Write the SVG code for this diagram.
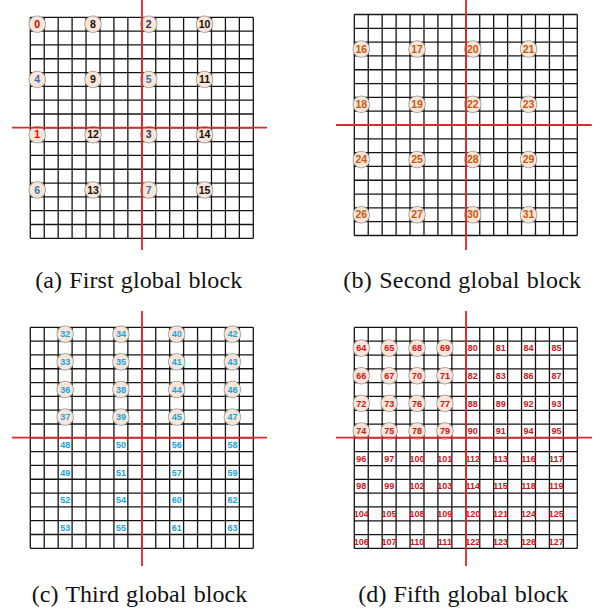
<svg xmlns="http://www.w3.org/2000/svg" width="601" height="613" viewBox="0 0 601 613">
<style>
.grid{fill:none;stroke:#141414;stroke-width:1.3}
.cut{stroke:#e3262b;stroke-width:1.8;fill:none}
.nc{fill:#fbe5d6;stroke:#a6a6a6;stroke-width:1}
.t{font-family:"Liberation Sans",Arial,sans-serif;font-weight:bold;text-anchor:middle}
.a{font-size:10.5px}
.s{font-size:9px}
.red{fill:#c00000}
.bred{fill:#ff0000}
.blue{fill:#2e75b6}
.navy{fill:#1f3864}
.blk{fill:#111}
.org{fill:#c55a11}
.cyan{fill:#16a3e8}
.dred{fill:#c8161d}
.cap{font-family:"Liberation Serif","Times New Roman",serif;font-size:24px;fill:#111;word-spacing:1px;text-anchor:middle}
</style>
<defs>
<path id="grid" class="grid" d="M0 0V221M13.94 0V221M27.88 0V221M41.81 0V221M55.75 0V221M69.69 0V221M83.63 0V221M97.56 0V221M111.5 0V221M125.44 0V221M139.38 0V221M153.31 0V221M167.25 0V221M181.19 0V221M195.13 0V221M209.06 0V221M223 0V221M0 0H223M0 13.81H223M0 27.63H223M0 41.44H223M0 55.25H223M0 69.06H223M0 82.88H223M0 96.69H223M0 110.5H223M0 124.31H223M0 138.13H223M0 151.94H223M0 165.75H223M0 179.56H223M0 193.38H223M0 207.19H223M0 221H223"/>
</defs>
<g id="grids">
<use href="#grid" transform="translate(30.3,17.3)"/>
<use href="#grid" transform="translate(354.3,14.5)"/>
<use href="#grid" transform="translate(30.3,327.3)"/>
<use href="#grid" transform="translate(354.3,327.4)"/>
</g>
<g id="panel-a">
<g id="n0"><circle class="nc" cx="37.27" cy="24.21" r="8.3"/><text class="t a red" x="37.27" y="27.9">0</text></g>
<g id="n8"><circle class="nc" cx="93.02" cy="24.21" r="8.3"/><text class="t a blk" x="93.02" y="27.9">8</text></g>
<g id="n2"><circle class="nc" cx="148.77" cy="24.21" r="8.3"/><text class="t a navy" x="148.77" y="27.9">2</text></g>
<g id="n10"><circle class="nc" cx="204.52" cy="24.21" r="8.3"/><text class="t a blk" x="204.52" y="27.9">10</text></g>
<g id="n4"><circle class="nc" cx="37.27" cy="79.46" r="8.3"/><text class="t a blue" x="37.27" y="83.15">4</text></g>
<g id="n9"><circle class="nc" cx="93.02" cy="79.46" r="8.3"/><text class="t a blk" x="93.02" y="83.15">9</text></g>
<g id="n5"><circle class="nc" cx="148.77" cy="79.46" r="8.3"/><text class="t a blue" x="148.77" y="83.15">5</text></g>
<g id="n11"><circle class="nc" cx="204.52" cy="79.46" r="8.3"/><text class="t a blk" x="204.52" y="83.15">11</text></g>
<g id="n1"><circle class="nc" cx="37.27" cy="134.71" r="8.3"/><text class="t a bred" x="37.27" y="138.4">1</text></g>
<g id="n12"><circle class="nc" cx="93.02" cy="134.71" r="8.3"/><text class="t a blk" x="93.02" y="138.4">12</text></g>
<g id="n3"><circle class="nc" cx="148.77" cy="134.71" r="8.3"/><text class="t a navy" x="148.77" y="138.4">3</text></g>
<g id="n14"><circle class="nc" cx="204.52" cy="134.71" r="8.3"/><text class="t a blk" x="204.52" y="138.4">14</text></g>
<g id="n6"><circle class="nc" cx="37.27" cy="189.96" r="8.3"/><text class="t a blue" x="37.27" y="193.65">6</text></g>
<g id="n13"><circle class="nc" cx="93.02" cy="189.96" r="8.3"/><text class="t a blk" x="93.02" y="193.65">13</text></g>
<g id="n7"><circle class="nc" cx="148.77" cy="189.96" r="8.3"/><text class="t a blue" x="148.77" y="193.65">7</text></g>
<g id="n15"><circle class="nc" cx="204.52" cy="189.96" r="8.3"/><text class="t a blk" x="204.52" y="193.65">15</text></g>
</g>
<g id="panel-b">
<g id="n16"><circle class="nc" cx="361.27" cy="49.03" r="8.3"/><text class="t a org" x="361.27" y="52.7">16</text></g>
<g id="n17"><circle class="nc" cx="417.02" cy="49.03" r="8.3"/><text class="t a org" x="417.02" y="52.7">17</text></g>
<g id="n20"><circle class="nc" cx="472.77" cy="49.03" r="8.3"/><text class="t a org" x="472.77" y="52.7">20</text></g>
<g id="n21"><circle class="nc" cx="528.52" cy="49.03" r="8.3"/><text class="t a org" x="528.52" y="52.7">21</text></g>
<g id="n18"><circle class="nc" cx="361.27" cy="104.28" r="8.3"/><text class="t a org" x="361.27" y="107.95">18</text></g>
<g id="n19"><circle class="nc" cx="417.02" cy="104.28" r="8.3"/><text class="t a org" x="417.02" y="107.95">19</text></g>
<g id="n22"><circle class="nc" cx="472.77" cy="104.28" r="8.3"/><text class="t a org" x="472.77" y="107.95">22</text></g>
<g id="n23"><circle class="nc" cx="528.52" cy="104.28" r="8.3"/><text class="t a org" x="528.52" y="107.95">23</text></g>
<g id="n24"><circle class="nc" cx="361.27" cy="159.53" r="8.3"/><text class="t a org" x="361.27" y="163.2">24</text></g>
<g id="n25"><circle class="nc" cx="417.02" cy="159.53" r="8.3"/><text class="t a org" x="417.02" y="163.2">25</text></g>
<g id="n28"><circle class="nc" cx="472.77" cy="159.53" r="8.3"/><text class="t a org" x="472.77" y="163.2">28</text></g>
<g id="n29"><circle class="nc" cx="528.52" cy="159.53" r="8.3"/><text class="t a org" x="528.52" y="163.2">29</text></g>
<g id="n26"><circle class="nc" cx="361.27" cy="214.78" r="8.3"/><text class="t a org" x="361.27" y="218.45">26</text></g>
<g id="n27"><circle class="nc" cx="417.02" cy="214.78" r="8.3"/><text class="t a org" x="417.02" y="218.45">27</text></g>
<g id="n30"><circle class="nc" cx="472.77" cy="214.78" r="8.3"/><text class="t a org" x="472.77" y="218.45">30</text></g>
<g id="n31"><circle class="nc" cx="528.52" cy="214.78" r="8.3"/><text class="t a org" x="528.52" y="218.45">31</text></g>
</g>
<g id="panel-c">
<g id="n32"><circle class="nc" cx="65.14" cy="334.21" r="8.3"/><text class="t s cyan" x="65.14" y="337.4">32</text></g>
<g id="n34"><circle class="nc" cx="120.89" cy="334.21" r="8.3"/><text class="t s cyan" x="120.89" y="337.4">34</text></g>
<g id="n40"><circle class="nc" cx="176.64" cy="334.21" r="8.3"/><text class="t s cyan" x="176.64" y="337.4">40</text></g>
<g id="n42"><circle class="nc" cx="232.39" cy="334.21" r="8.3"/><text class="t s cyan" x="232.39" y="337.4">42</text></g>
<g id="n33"><circle class="nc" cx="65.14" cy="361.83" r="8.3"/><text class="t s cyan" x="65.14" y="365.03">33</text></g>
<g id="n35"><circle class="nc" cx="120.89" cy="361.83" r="8.3"/><text class="t s cyan" x="120.89" y="365.03">35</text></g>
<g id="n41"><circle class="nc" cx="176.64" cy="361.83" r="8.3"/><text class="t s cyan" x="176.64" y="365.03">41</text></g>
<g id="n43"><circle class="nc" cx="232.39" cy="361.83" r="8.3"/><text class="t s cyan" x="232.39" y="365.03">43</text></g>
<g id="n36"><circle class="nc" cx="65.14" cy="389.46" r="8.3"/><text class="t s cyan" x="65.14" y="392.66">36</text></g>
<g id="n38"><circle class="nc" cx="120.89" cy="389.46" r="8.3"/><text class="t s cyan" x="120.89" y="392.66">38</text></g>
<g id="n44"><circle class="nc" cx="176.64" cy="389.46" r="8.3"/><text class="t s cyan" x="176.64" y="392.66">44</text></g>
<g id="n46"><circle class="nc" cx="232.39" cy="389.46" r="8.3"/><text class="t s cyan" x="232.39" y="392.66">46</text></g>
<g id="n37"><circle class="nc" cx="65.14" cy="417.08" r="8.3"/><text class="t s cyan" x="65.14" y="420.28">37</text></g>
<g id="n39"><circle class="nc" cx="120.89" cy="417.08" r="8.3"/><text class="t s cyan" x="120.89" y="420.28">39</text></g>
<g id="n45"><circle class="nc" cx="176.64" cy="417.08" r="8.3"/><text class="t s cyan" x="176.64" y="420.28">45</text></g>
<g id="n47"><circle class="nc" cx="232.39" cy="417.08" r="8.3"/><text class="t s cyan" x="232.39" y="420.28">47</text></g>
<g id="n48"><text class="t s cyan" x="65.14" y="447.91">48</text></g>
<g id="n50"><text class="t s cyan" x="120.89" y="447.91">50</text></g>
<g id="n56"><text class="t s cyan" x="176.64" y="447.91">56</text></g>
<g id="n58"><text class="t s cyan" x="232.39" y="447.91">58</text></g>
<g id="n49"><text class="t s cyan" x="65.14" y="475.53">49</text></g>
<g id="n51"><text class="t s cyan" x="120.89" y="475.53">51</text></g>
<g id="n57"><text class="t s cyan" x="176.64" y="475.53">57</text></g>
<g id="n59"><text class="t s cyan" x="232.39" y="475.53">59</text></g>
<g id="n52"><text class="t s cyan" x="65.14" y="503.16">52</text></g>
<g id="n54"><text class="t s cyan" x="120.89" y="503.16">54</text></g>
<g id="n60"><text class="t s cyan" x="176.64" y="503.16">60</text></g>
<g id="n62"><text class="t s cyan" x="232.39" y="503.16">62</text></g>
<g id="n53"><text class="t s cyan" x="65.14" y="530.78">53</text></g>
<g id="n55"><text class="t s cyan" x="120.89" y="530.78">55</text></g>
<g id="n61"><text class="t s cyan" x="176.64" y="530.78">61</text></g>
<g id="n63"><text class="t s cyan" x="232.39" y="530.78">63</text></g>
</g>
<g id="panel-d">
<g id="n64"><circle class="nc" cx="361.27" cy="348.12" r="8.3"/><text class="t s dred" x="361.27" y="351.32">64</text></g>
<g id="n65"><circle class="nc" cx="389.14" cy="348.12" r="8.3"/><text class="t s dred" x="389.14" y="351.32">65</text></g>
<g id="n68"><circle class="nc" cx="417.02" cy="348.12" r="8.3"/><text class="t s dred" x="417.02" y="351.32">68</text></g>
<g id="n69"><circle class="nc" cx="444.89" cy="348.12" r="8.3"/><text class="t s dred" x="444.89" y="351.32">69</text></g>
<g id="n66"><circle class="nc" cx="361.27" cy="375.74" r="8.3"/><text class="t s dred" x="361.27" y="378.94">66</text></g>
<g id="n67"><circle class="nc" cx="389.14" cy="375.74" r="8.3"/><text class="t s dred" x="389.14" y="378.94">67</text></g>
<g id="n70"><circle class="nc" cx="417.02" cy="375.74" r="8.3"/><text class="t s dred" x="417.02" y="378.94">70</text></g>
<g id="n71"><circle class="nc" cx="444.89" cy="375.74" r="8.3"/><text class="t s dred" x="444.89" y="378.94">71</text></g>
<g id="n72"><circle class="nc" cx="361.27" cy="403.37" r="8.3"/><text class="t s dred" x="361.27" y="406.57">72</text></g>
<g id="n73"><circle class="nc" cx="389.14" cy="403.37" r="8.3"/><text class="t s dred" x="389.14" y="406.57">73</text></g>
<g id="n76"><circle class="nc" cx="417.02" cy="403.37" r="8.3"/><text class="t s dred" x="417.02" y="406.57">76</text></g>
<g id="n77"><circle class="nc" cx="444.89" cy="403.37" r="8.3"/><text class="t s dred" x="444.89" y="406.57">77</text></g>
<g id="n74"><circle class="nc" cx="361.27" cy="430.99" r="8.3"/><text class="t s dred" x="361.27" y="434.19">74</text></g>
<g id="n75"><circle class="nc" cx="389.14" cy="430.99" r="8.3"/><text class="t s dred" x="389.14" y="434.19">75</text></g>
<g id="n78"><circle class="nc" cx="417.02" cy="430.99" r="8.3"/><text class="t s dred" x="417.02" y="434.19">78</text></g>
<g id="n79"><circle class="nc" cx="444.89" cy="430.99" r="8.3"/><text class="t s dred" x="444.89" y="434.19">79</text></g>
<g id="n80"><text class="t s dred" x="472.77" y="351.32">80</text></g>
<g id="n81"><text class="t s dred" x="500.64" y="351.32">81</text></g>
<g id="n84"><text class="t s dred" x="528.52" y="351.32">84</text></g>
<g id="n85"><text class="t s dred" x="556.39" y="351.32">85</text></g>
<g id="n82"><text class="t s dred" x="472.77" y="378.94">82</text></g>
<g id="n83"><text class="t s dred" x="500.64" y="378.94">83</text></g>
<g id="n86"><text class="t s dred" x="528.52" y="378.94">86</text></g>
<g id="n87"><text class="t s dred" x="556.39" y="378.94">87</text></g>
<g id="n88"><text class="t s dred" x="472.77" y="406.57">88</text></g>
<g id="n89"><text class="t s dred" x="500.64" y="406.57">89</text></g>
<g id="n92"><text class="t s dred" x="528.52" y="406.57">92</text></g>
<g id="n93"><text class="t s dred" x="556.39" y="406.57">93</text></g>
<g id="n90"><text class="t s dred" x="472.77" y="434.19">90</text></g>
<g id="n91"><text class="t s dred" x="500.64" y="434.19">91</text></g>
<g id="n94"><text class="t s dred" x="528.52" y="434.19">94</text></g>
<g id="n95"><text class="t s dred" x="556.39" y="434.19">95</text></g>
<g id="n96"><text class="t s dred" x="361.27" y="461.82">96</text></g>
<g id="n97"><text class="t s dred" x="389.14" y="461.82">97</text></g>
<g id="n100"><text class="t s dred" x="417.02" y="461.82">100</text></g>
<g id="n101"><text class="t s dred" x="444.89" y="461.82">101</text></g>
<g id="n112"><text class="t s dred" x="472.77" y="461.82">112</text></g>
<g id="n113"><text class="t s dred" x="500.64" y="461.82">113</text></g>
<g id="n116"><text class="t s dred" x="528.52" y="461.82">116</text></g>
<g id="n117"><text class="t s dred" x="556.39" y="461.82">117</text></g>
<g id="n98"><text class="t s dred" x="361.27" y="489.44">98</text></g>
<g id="n99"><text class="t s dred" x="389.14" y="489.44">99</text></g>
<g id="n102"><text class="t s dred" x="417.02" y="489.44">102</text></g>
<g id="n103"><text class="t s dred" x="444.89" y="489.44">103</text></g>
<g id="n114"><text class="t s dred" x="472.77" y="489.44">114</text></g>
<g id="n115"><text class="t s dred" x="500.64" y="489.44">115</text></g>
<g id="n118"><text class="t s dred" x="528.52" y="489.44">118</text></g>
<g id="n119"><text class="t s dred" x="556.39" y="489.44">119</text></g>
<g id="n104"><text class="t s dred" x="361.27" y="517.07">104</text></g>
<g id="n105"><text class="t s dred" x="389.14" y="517.07">105</text></g>
<g id="n108"><text class="t s dred" x="417.02" y="517.07">108</text></g>
<g id="n109"><text class="t s dred" x="444.89" y="517.07">109</text></g>
<g id="n120"><text class="t s dred" x="472.77" y="517.07">120</text></g>
<g id="n121"><text class="t s dred" x="500.64" y="517.07">121</text></g>
<g id="n124"><text class="t s dred" x="528.52" y="517.07">124</text></g>
<g id="n125"><text class="t s dred" x="556.39" y="517.07">125</text></g>
<g id="n106"><text class="t s dred" x="361.27" y="544.69">106</text></g>
<g id="n107"><text class="t s dred" x="389.14" y="544.69">107</text></g>
<g id="n110"><text class="t s dred" x="417.02" y="544.69">110</text></g>
<g id="n111"><text class="t s dred" x="444.89" y="544.69">111</text></g>
<g id="n122"><text class="t s dred" x="472.77" y="544.69">122</text></g>
<g id="n123"><text class="t s dred" x="500.64" y="544.69">123</text></g>
<g id="n126"><text class="t s dred" x="528.52" y="544.69">126</text></g>
<g id="n127"><text class="t s dred" x="556.39" y="544.69">127</text></g>
</g>
<g id="connectors">
<path class="cut" d="M142 0V250M12 127.6H267"/>
<path class="cut" d="M466 0V250M336 125H591.7"/>
<path class="cut" d="M142 311V566M12 437.7H267"/>
<path class="cut" d="M466 311V566M336 437.7H592"/>
</g>
<g id="captions">
<text class="cap" x="138.7" y="288" textLength="207" lengthAdjust="spacing">(a) First global block</text>
<text class="cap" x="462.2" y="288" textLength="237.7" lengthAdjust="spacing">(b) Second global block</text>
<text class="cap" x="139.5" y="601.5" textLength="215.6" lengthAdjust="spacing">(c) Third global block</text>
<text class="cap" x="463.3" y="601.5" textLength="210" lengthAdjust="spacing">(d) Fifth global block</text>
</g>
</svg>
